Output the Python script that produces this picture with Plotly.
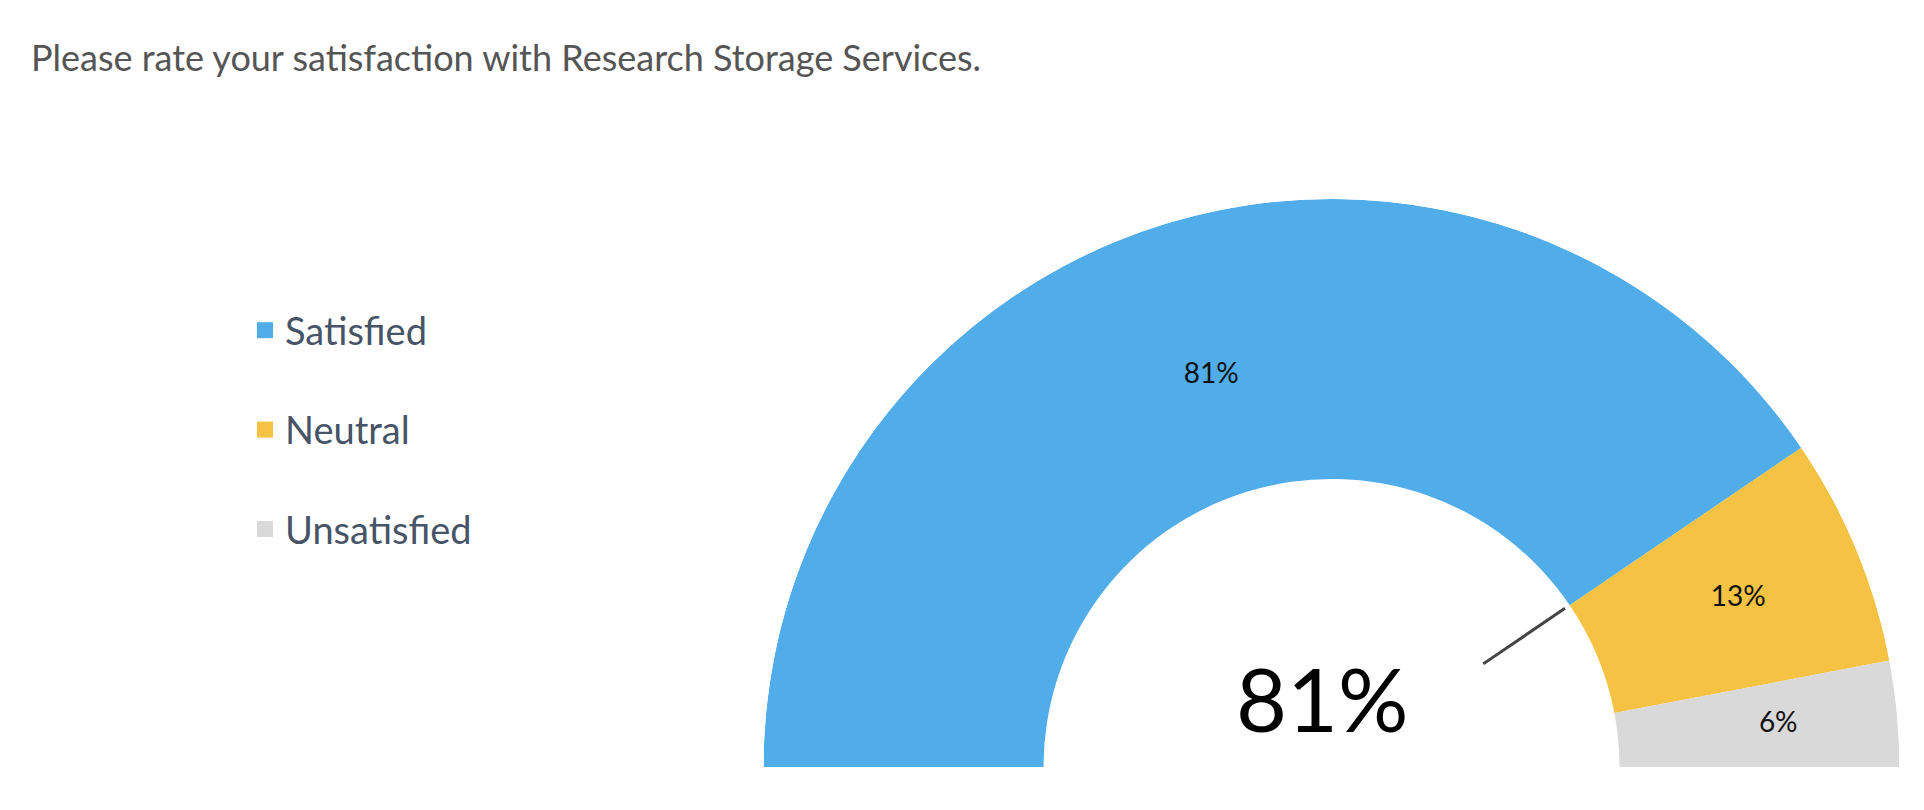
import plotly.graph_objects as go

# ---- data ----
categories = ["Satisfied", "Neutral", "Unsatisfied"]
values = [81, 13, 6]
label_texts = ["81%", "13%", "6%"]
headline_value = 81
headline_text = "81%"
title_text = "Please rate your satisfaction with Research Storage Services."

# ---- style ----
colors = ["#50ADEA", "#F5C244", "#D9D9D9"]
FONT = "Lato, 'Open Sans', sans-serif"
W, H = 1924, 810
HOLE = 0.507
DEG_PER_PCT = 180.0 / 100.0
label_r = [0.72, 0.775, 0.79]

# angular positions from the data (gauge scale: 100% -> 180 degrees)
widths = [v * DEG_PER_PCT for v in values]
mids = []
acc = 0.0
for w in widths:
    mids.append(acc + w / 2)
    acc += w

fig = go.Figure()

fig.add_trace(go.Barpolar(
    theta=mids,
    width=widths,
    r=[1 - HOLE] * len(values),
    base=[HOLE] * len(values),
    marker=dict(color=colors, line=dict(width=0)),
    showlegend=False,
    hoverinfo="skip",
    subplot="polar",
))

fig.add_trace(go.Scatterpolar(
    theta=mids,
    r=label_r,
    mode="text",
    text=label_texts,
    textfont=dict(family=FONT, size=28, color="#111111"),
    showlegend=False,
    hoverinfo="skip",
    subplot="polar",
))

# needle
fig.add_trace(go.Scatterpolar(
    theta=[headline_value * DEG_PER_PCT] * 2,
    r=[0.323, 0.497],
    mode="lines",
    line=dict(color="#444444", width=3),
    showlegend=False,
    hoverinfo="skip",
    subplot="polar",
))

# legend entries
for name, c in zip(categories, colors):
    fig.add_trace(go.Scatter(
        x=[None], y=[None], mode="markers", name=name, legendgroup=name,
        marker=dict(symbol="square", size=16, color=c),
    ))

fig.update_layout(
    width=W, height=H,
    margin=dict(l=0, r=0, t=0, b=0),
    paper_bgcolor="white", plot_bgcolor="white",
    font=dict(family=FONT),
    title=dict(text=title_text, x=31 / W, xanchor="left", y=(H - 58) / H, yanchor="middle",
               font=dict(family=FONT, size=36, color="#555555")),
    polar=dict(
        domain=dict(x=[763 / W, 1900 / W], y=[(H - 767) / H, (H - 199) / H]),
        sector=[0, 180],
        hole=0,
        bgcolor="rgba(0,0,0,0)",
        radialaxis=dict(range=[0, 1], visible=False),
        angularaxis=dict(visible=False, direction="clockwise", rotation=180),
    ),
    xaxis=dict(visible=False),
    yaxis=dict(visible=False),
    showlegend=True,
    legend=dict(
        x=245 / W, xanchor="left", y=(H - 299) / H, yanchor="top",
        font=dict(family=FONT, size=38, color="#475467"),
        tracegroupgap=47, bgcolor="rgba(0,0,0,0)",
        itemclick=False, itemdoubleclick=False,
    ),
    annotations=[dict(
        text=headline_text, x=1322 / W, y=(H - 698) / H, xref="paper", yref="paper",
        xanchor="center", yanchor="middle", showarrow=False,
        font=dict(family=FONT, size=88, color="#000000"),
    )],
)

fig.write_html("out.html")
